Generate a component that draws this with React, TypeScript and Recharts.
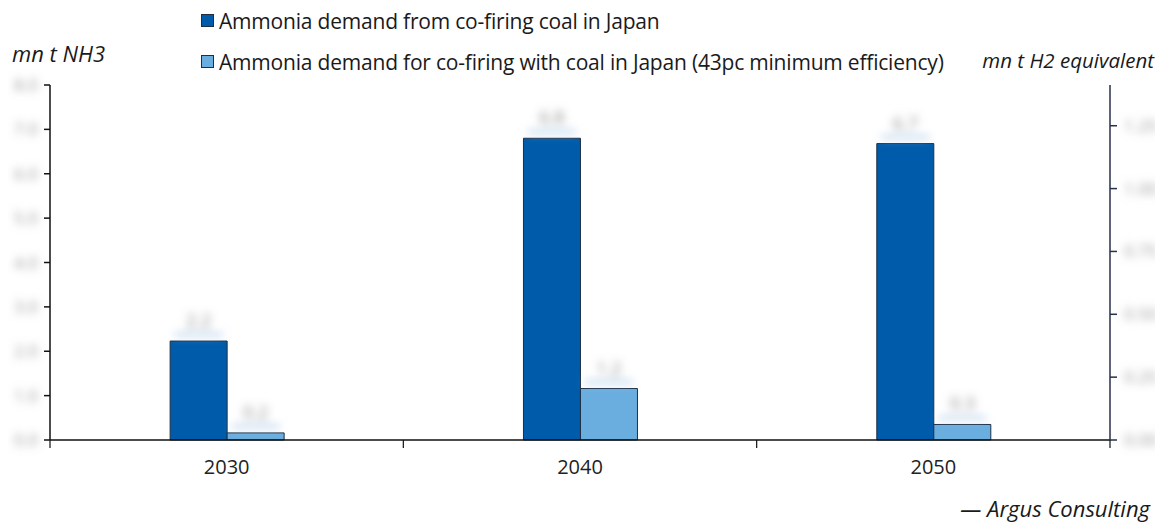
import React from 'react';
import { BarChart, Bar, XAxis, YAxis, LabelList, ReferenceLine } from 'recharts';

// mn t NH3, co-firing ammonia demand in Japan
const years = ['2030', '2040', '2050'];
const coFiringDemand = [2.23, 6.8, 6.68];
const minEfficiencyDemand = [0.16, 1.16, 0.35];

const leftTicks = [0, 1, 2, 3, 4, 5, 6, 7, 8];
const rightTicks = [0, 0.25, 0.5, 0.75, 1, 1.25];
const NH3_MAX = 8;
// hydrogen share of ammonia by mass
const H2_PER_NH3 = 0.1765;

const seriesNames = [
  'Ammonia demand from co-firing coal in Japan',
  'Ammonia demand for co-firing with coal in Japan (43pc minimum efficiency)',
];
const colors = ['#005BAA', '#6AAEE0'];

const data = years.map((year, i) => ({
  year,
  coFiring: coFiringDemand[i],
  minEfficiency: minEfficiencyDemand[i],
}));

const FONT = '"Open Sans", "Noto Sans", sans-serif';

const BlurredValue = (props: any) => {
  const { x, y, width, value } = props;
  const cx = x + width / 2;
  return (
    <g filter="url(#soft)">
      <rect x={cx - 24} y={y - 8} width={48} height={3} fill="#a9c8e6" />
      <text x={cx} y={y - 14} textAnchor="middle" fontSize={18} fill="#8a8a8a" fontFamily={FONT}>
        {value.toFixed(1)}
      </text>
    </g>
  );
};

// tick mark + label hung off a reference line's left end
const leftTickShape = (value: number) => (props: any) => {
  const { x1, y1 } = props;
  return (
    <g>
      <line x1={x1 - 6} x2={x1} y1={y1} y2={y1} stroke="#111" strokeWidth={1.5} />
      <text x={x1 - 12} y={y1 + 6} textAnchor="end" fontSize={17} fill="#9a9a9a" fontFamily={FONT} filter="url(#soft)">
        {value.toFixed(1)}
      </text>
    </g>
  );
};

// same on the right end, labelled in H2 terms
const rightTickShape = (value: number) => (props: any) => {
  const { x2, y2 } = props;
  return (
    <g>
      <line x1={x2} x2={x2 + 7} y1={y2} y2={y2} stroke="#27304a" strokeWidth={1.5} />
      <text x={x2 + 14} y={y2 + 6} textAnchor="start" fontSize={17} fill="#9a9a9a" fontFamily={FONT} filter="url(#soft)">
        {value.toFixed(2)}
      </text>
    </g>
  );
};

// year label plus divider ticks at the category edges
const YearTick = (props: any) => {
  const { x, y, payload, index } = props;
  const half = payload.offset ?? 0;
  return (
    <g>
      <line x1={x - half} x2={x - half} y1={y - 8} y2={y} stroke="#111" strokeWidth={1.2} />
      {index === years.length - 1 && (
        <line x1={x + half} x2={x + half} y1={y - 8} y2={y} stroke="#111" strokeWidth={1.2} />
      )}
      <text x={x} y={y + 26} textAnchor="middle" fontSize={20} fill="#222" fontFamily={FONT}>
        {payload.value}
      </text>
    </g>
  );
};

const LegendBox = () => (
  <div
    style={{
      position: 'absolute',
      left: 193,
      top: -8,
      fontFamily: FONT,
      fontSize: 21,
      color: '#1a1a1a',
      letterSpacing: -0.2,
      whiteSpace: 'nowrap',
    }}
  >
    {seriesNames.map((name, i) => (
      <div key={name} style={{ display: 'flex', alignItems: 'center', height: 41 }}>
        <span
          style={{
            width: 13,
            height: 13,
            background: colors[i],
            border: '1px solid #1d2f45',
            marginRight: 5,
            boxSizing: 'border-box',
          }}
        />
        {name}
      </div>
    ))}
  </div>
);

export default function App() {
  return (
    <div style={{ position: 'relative', width: 1155, height: 514, fontFamily: FONT }}>
      <BarChart
        width={1155}
        height={514}
        data={data}
        margin={{ top: 77, right: 3, bottom: 42, left: 2 }}
        barCategoryGap="34%"
        barGap={0}
      >
        <defs>
          <filter id="soft" x="-50%" y="-50%" width="200%" height="200%">
            <feGaussianBlur stdDeviation="4" />
          </filter>
        </defs>
        <XAxis
          dataKey="year"
          xAxisId="year"
          height={40}
          tickLine={false}
          tick={<YearTick />}
          stroke="#111"
          strokeWidth={1.5}
        />
        {/* value scale for the bars, drawn by the frame axis below */}
        <YAxis yAxisId="nh3" domain={[0, NH3_MAX]} width={0} tick={false} axisLine={false} tickLine={false} />
        <YAxis
          yAxisId="frame"
          domain={[0, NH3_MAX]}
          ticks={leftTicks}
          width={40}
          tick={false}
          tickLine={false}
          stroke="#111"
          strokeWidth={1.5}
        />
        <YAxis
          yAxisId="h2"
          orientation="right"
          domain={[0, NH3_MAX * H2_PER_NH3]}
          ticks={rightTicks}
          width={50}
          tick={false}
          tickLine={false}
          stroke="#27304a"
          strokeWidth={1.5}
        />
        {leftTicks.map((v) => (
          <ReferenceLine
            key={`l${v}`}
            xAxisId="year"
            yAxisId="nh3"
            y={v}
            shape={leftTickShape(v)}
          />
        ))}
        {rightTicks.map((t) => (
          <ReferenceLine
            key={`r${t}`}
            xAxisId="year"
            yAxisId="nh3"
            y={t / H2_PER_NH3}
            shape={rightTickShape(t)}
          />
        ))}
        <Bar
          dataKey="coFiring"
          xAxisId="year"
          yAxisId="nh3"
          fill={colors[0]}
          stroke="#1d2f45"
          strokeWidth={1}
          isAnimationActive={false}
        >
          <LabelList dataKey="coFiring" content={<BlurredValue />} />
        </Bar>
        <Bar
          dataKey="minEfficiency"
          xAxisId="year"
          yAxisId="nh3"
          fill={colors[1]}
          stroke="#1d2f45"
          strokeWidth={1}
          isAnimationActive={false}
        >
          <LabelList dataKey="minEfficiency" content={<BlurredValue />} />
        </Bar>
      </BarChart>
      <LegendBox />
      <div style={{ position: 'absolute', left: 4, top: 30, fontSize: 22, fontStyle: 'italic', color: '#1a1a1a' }}>
        mn t NH3
      </div>
      <div
        style={{
          position: 'absolute',
          right: 9,
          top: 38,
          fontSize: 20.5,
          fontStyle: 'italic',
          color: '#1a1a1a',
          whiteSpace: 'nowrap',
        }}
      >
        mn t H2 equivalent
      </div>
      <div
        style={{
          position: 'absolute',
          right: 13,
          top: 489,
          fontSize: 22,
          lineHeight: '22px',
          fontStyle: 'italic',
          color: '#1a1a1a',
          whiteSpace: 'nowrap',
        }}
      >
        — Argus Consulting
      </div>
    </div>
  );
}
